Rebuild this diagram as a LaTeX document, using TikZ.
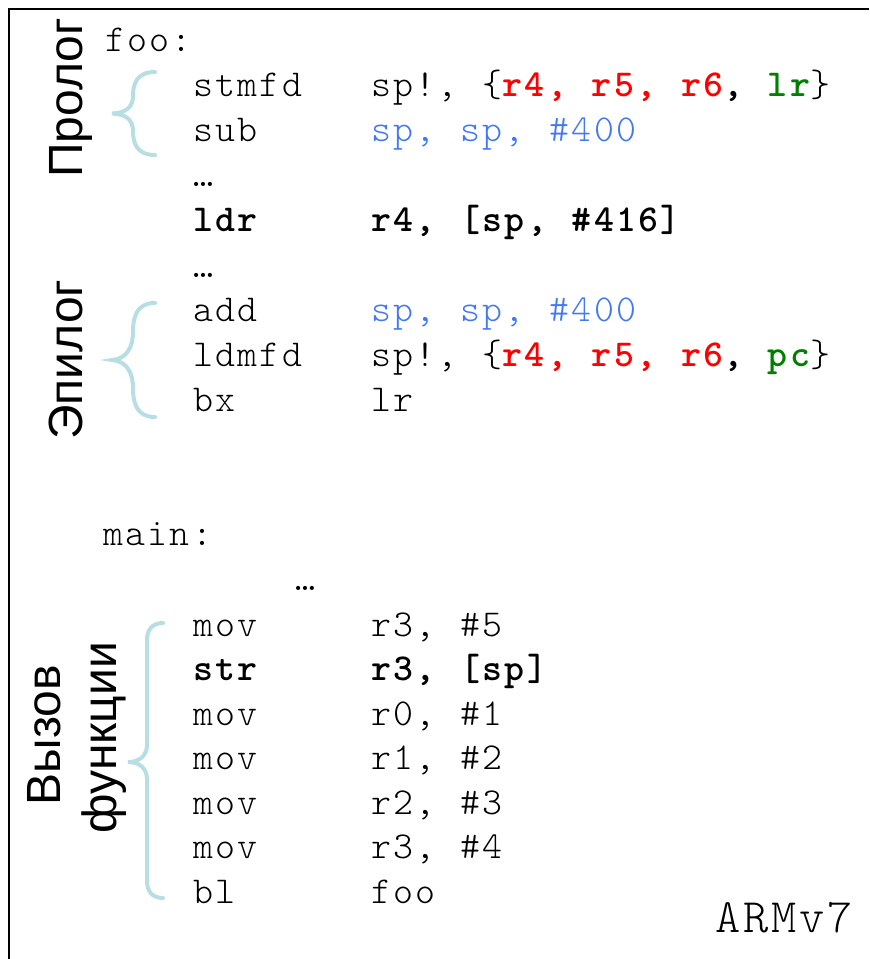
\documentclass[tikz,border=0pt]{standalone}
\usepackage{fontspec}
\newfontfamily\codefont{lmmonolt10-regular.otf}[BoldFont=lmmonolt10-bold.otf,
  LetterSpace=6.0, WordSpace=1.115]
\newfontfamily\labelfont{Liberation Sans}
\definecolor{regred}{RGB}{255,0,0}
\definecolor{retgreen}{RGB}{0,128,0}
\definecolor{spblue}{RGB}{66,120,245}
\definecolor{bracecol}{RGB}{183,223,227}
\begin{document}
\begin{tikzpicture}[x=0.75pt,y=-0.75pt,%
% common options for code lines:
code/.style = {anchor=base west, inner sep=0,
            font=\codefont\fontsize{28.5}{33}\selectfont},
% common options for the rotated labels:
part/.style = {anchor=base west, inner sep=0, rotate=90,
            font=\labelfont\fontsize{36}{43}\selectfont},
% common options for the curly brackets:
bracket/.style = {draw=bracecol, line width=3pt, line cap=round}]
\useasboundingbox (0,0) rectangle (869,959);
\draw[line width=1.5pt] (9,959) |- (869,9);
% foo
\node[code] (F0) at (105,52) {foo:};
\node[code] (I1) at (193,97) {stmfd};
\node[code] (I2) at (193,142) {sub};
\node[code] (I3) at (193,187) {…};
\node[code] (I4) at (193,232) {\bfseries ldr};
\node[code] (I5) at (193,277) {…};
\node[code] (I6) at (193,321) {add};
\node[code] (I7) at (193,366) {ldmfd};
\node[code] (I8) at (193,411) {bx};
\node[code] (O1) at (371,97) {sp!, \{{\bfseries\color{regred}r4, r5, r6}{\bfseries, }{\bfseries\color{retgreen}lr}\}};
\node[code, text=spblue] (O2) at (371,142) {sp, sp, \#400};
\node[code] (O4) at (371,232) {\bfseries r4, [sp, \#416]};
\node[code, text=spblue] (O6) at (371,321) {sp, sp, \#400};
\node[code] (O7) at (371,366) {sp!, \{{\bfseries\color{regred}r4, r5, r6}{\bfseries, }{\bfseries\color{retgreen}pc}\}};
\node[code] (O8) at (371,411) {lr};
% main
\node[code] (M0) at (103,545) {main:};
\node[code] (M1) at (295,590) {…};
\node[code] (J1) at (193,636) {mov};
\node[code] (J2) at (193,680) {\bfseries str};
\node[code] (J3) at (193,725) {mov};
\node[code] (J4) at (193,769) {mov};
\node[code] (J5) at (193,814) {mov};
\node[code] (J6) at (193,858) {mov};
\node[code] (J7) at (193,903) {bl};
\node[code] (K1) at (371,636) {r3, \#5};
\node[code] (K2) at (371,680) {\bfseries r3, [sp]};
\node[code] (K3) at (371,725) {r0, \#1};
\node[code] (K4) at (371,769) {r1, \#2};
\node[code] (K5) at (371,814) {r2, \#3};
\node[code] (K6) at (371,858) {r3, \#4};
\node[code] (K7) at (371,903) {foo};
\node[code, anchor=base east, font=\codefont\fontsize{36}{42}\selectfont] (arch) at (853,932) {ARMv7};
% labels
\node[part] (prolog) at (82,178) {Пролог};
\node[part] (epilog) at (82,440) {Эпилог};
\node[part, anchor=base] (call1) at (60,735) {Вызов};
\node[part, anchor=base] (call2) at (116,738) {функции};
% brackets
\draw[bracket] (155,72) .. controls (136,72) and (133,85) .. (133,96)
  .. controls (133,107) and (126,113) .. (112,113.5)
  .. controls (126,114) and (133,120) .. (133,131)
  .. controls (133,142) and (136,155) .. (155,155);
\draw[bracket] (155,303) .. controls (136,303) and (133,318) .. (133,332)
  .. controls (133,348) and (126,359) .. (112,360)
  .. controls (126,361) and (133,372) .. (133,388)
  .. controls (133,402) and (136,417) .. (155,417);
\draw[bracket] (163,623) .. controls (152,623) and (147,630) .. (147,640) -- (147,745)
  .. controls (147,755) and (140,762) .. (128,762)
  .. controls (140,762) and (147,769) .. (147,779) -- (147,881)
  .. controls (147,891) and (152,898) .. (163,898);
\end{tikzpicture}
\end{document}
